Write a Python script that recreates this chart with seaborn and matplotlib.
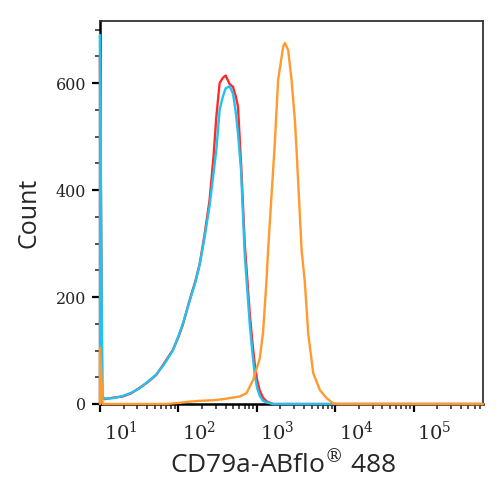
import seaborn as sns
import matplotlib.pyplot as plt
import matplotlib.transforms as mtransforms
from matplotlib.ticker import MultipleLocator, FixedLocator, FixedFormatter, NullFormatter
import pandas as pd

# -------------------------------------------------------------------
# Flow cytometry overlay: CD79a-ABflo 488 staining histogram
# -------------------------------------------------------------------

sns.set_style("ticks")
plt.rcParams["font.family"] = ["DejaVu Serif"]
plt.rcParams["mathtext.fontset"] = "dejavuserif"

# Fluorescence intensity (x) and event counts (y)
red_x = [10, 10, 10.7, 11.4, 15, 19.4, 25, 31.8, 40, 52, 65, 85, 100, 114, 139,
         165, 187, 215, 250, 280, 305, 336, 370, 401, 451, 498, 540, 576, 637,
         702, 760, 813, 880, 942, 1010, 1092, 1200, 1330, 1617, 3000, 30000, 770000]
red_y = [0, 650, 15, 9, 12, 14, 20, 30, 40, 54, 75, 101, 125, 148, 194,
         230, 262, 315, 381, 460, 537, 600, 610, 614, 598, 593, 575, 556, 437,
         300, 230, 170, 115, 75, 45, 25, 12, 5, 0, 0, 0, 0]

cyan_x = [10, 10, 10.7, 11.4, 15, 19.4, 25, 31.8, 40, 52, 65, 85, 100, 114, 139,
          165, 187, 215, 250, 280, 305, 336, 370, 401, 451, 498, 540, 576, 630,
          702, 760, 813, 880, 942, 1010, 1092, 1200, 1330, 1617, 3000, 30000, 770000]
cyan_y = [0, 690, 14, 10, 11, 15, 21, 29, 41, 55, 73, 100, 127, 150, 192,
          228, 260, 310, 370, 430, 475, 550, 575, 590, 594, 580, 545, 506, 437,
          280, 210, 150, 95, 55, 30, 15, 6, 3, 0, 0, 0, 0]

orange_x = [10, 10, 10.8, 70, 100, 130, 187, 280, 367, 605, 738, 898, 1092, 1205, 1330,
            1396, 1698, 1874, 2173, 2282, 2514, 2779, 3063, 3220, 3733, 4114, 4532,
            5250, 6393, 7790, 9470, 11530, 100000, 770000]
orange_y = [0, 105, 0, 0, 2, 4, 6, 7, 9, 14, 20, 45, 85, 135, 230,
            288, 487, 606, 668, 675, 662, 606, 531, 475, 288, 226, 132,
            58, 26, 11, 1, 0, 0, 0]

series = ["isotype", "unstained", "CD79a"]
colors = ["#ff2a2a", "#22c2ee", "#ff9a2e"]

decades = [10, 100, 1000, 10000, 100000]
decade_labels = [r"$10^{1}$", r"$10^{2}$", r"$10^{3}$", r"$10^{4}$", r"$10^{5}$"]

frames = []
for name, xs, ys in zip(series, [red_x, cyan_x, orange_x], [red_y, cyan_y, orange_y]):
    frames.append(pd.DataFrame({"Intensity": xs, "Count": ys, "Sample": name}))
df = pd.concat(frames, ignore_index=True)

fig = plt.figure(figsize=(5, 5), dpi=100)
ax = fig.add_axes([0.2, 0.192, 0.766, 0.766])

sns.lineplot(data=df, x="Intensity", y="Count", hue="Sample", hue_order=series,
             palette=colors, sort=False, estimator=None, units="Sample",
             linewidth=1.7, legend=False, ax=ax, zorder=3, clip_on=False)

ax.set_xscale("log")
ax.set_xlim(10, 770000)
ax.set_ylim(0, 716)

# ticks
minor_x = [k * d for d in decades for k in range(2, 10) if k * d < 770000]
ax.xaxis.set_major_locator(FixedLocator(decades))
ax.xaxis.set_major_formatter(FixedFormatter(decade_labels))
ax.xaxis.set_minor_locator(FixedLocator(minor_x))
ax.xaxis.set_minor_formatter(NullFormatter())

ax.yaxis.set_major_locator(MultipleLocator(200))
ax.yaxis.set_minor_locator(MultipleLocator(50))

ax.tick_params(which="major", direction="out", length=6, width=1.6, color="black")
ax.tick_params(axis="y", which="major", pad=4, labelsize=11.5)
ax.tick_params(axis="x", which="major", pad=6, labelsize=14)
ax.tick_params(which="minor", direction="out", length=3.5, width=1.2,
               color="#333333", bottom=True, left=True)

# shift decade labels to the right of their ticks (as in the original software)
offset = mtransforms.ScaledTranslation(0.21, 0, fig.dpi_scale_trans)
for lab in ax.get_xticklabels():
    lab.set_transform(lab.get_transform() + offset)

for side in ["left", "bottom"]:
    ax.spines[side].set_linewidth(1.8)
    ax.spines[side].set_color("black")
for side in ["top", "right"]:
    ax.spines[side].set_visible(True)
    ax.spines[side].set_linewidth(1.3)
    ax.spines[side].set_color("#333333")

ax.set_xlabel(r"CD79a-ABflo$^{\circledR}$ 488", fontsize=19, family="Open Sans")
ax.xaxis.set_label_coords(0.478, -0.122, transform=ax.transAxes)
ax.xaxis.label.set_va("top")
ax.set_ylabel("Count", fontsize=18, family="Open Sans", labelpad=10)

plt.savefig("out.png", dpi=100)
